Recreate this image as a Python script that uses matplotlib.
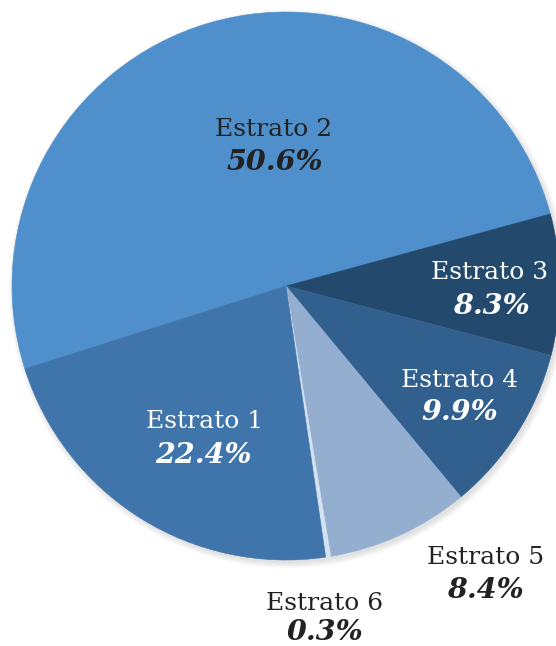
import matplotlib
matplotlib.use("Agg")
import matplotlib.pyplot as plt
from matplotlib.patches import Circle

# Data (clockwise order starting from Estrato 2)
categories = ["Estrato 2", "Estrato 3", "Estrato 4", "Estrato 5", "Estrato 6", "Estrato 1"]
values = [50.6, 8.3, 9.9, 8.4, 0.3, 22.4]
pct_labels = ["50.6%", "8.3%", "9.9%", "8.4%", "0.3%", "22.4%"]

colors = ["#4f8fcb", "#234a6d", "#31608e", "#94aed0", "#d3e1f1", "#3f75aa"]
text_colors = ["#222222", "#ffffff", "#ffffff", "#222222", "#222222", "#ffffff"]
# label anchor positions (pixel centres in the image) for name and percentage
label_px = [(274, 130), (490, 273), (460, 381), (486, 558), (325, 603), (204, 422)]
pct_px = [(275, 163), (491, 307), (460, 413), (485, 591), (325, 633), (203, 456)]

W, H = 556, 646
cx, cy, R = 286, 286, 274

fig = plt.figure(figsize=(W / 100, H / 100), dpi=100)
ax = fig.add_axes([(cx - R) / W, (H - (cy + R)) / H, 2 * R / W, 2 * R / H])

# soft shadow
for i in range(6):
    ax.add_patch(Circle((0.008, -0.01), 1.0 + 0.004 * i, color="#000000",
                        alpha=0.018, zorder=0, lw=0, clip_on=False))

wedges, _ = ax.pie(values, colors=colors, startangle=197.6, counterclock=False,
                   radius=1.0, normalize=True,
                   wedgeprops=dict(linewidth=0.4, antialiased=True))
for w, c in zip(wedges, colors):
    w.set_edgecolor(c)
    w.set_clip_on(False)
    w.set_zorder(2)

ax.set_xlim(-1, 1)
ax.set_ylim(-1, 1)
ax.set_aspect("equal")
ax.axis("off")

def to_data(p):
    return ((p[0] - cx) / R, (cy - p[1]) / R)

font = "DejaVu Serif"
for name, pct, tc, lp, pp in zip(categories, pct_labels, text_colors, label_px, pct_px):
    x, y = to_data(lp)
    ax.text(x, y, name, ha="center", va="center", fontsize=18, family=font,
            color=tc, zorder=5, clip_on=False)
    x, y = to_data(pp)
    ax.text(x, y, pct, ha="center", va="center", fontsize=20.5, family=font,
            fontweight="bold", fontstyle="italic", color=tc, zorder=5, clip_on=False)

fig.savefig("out.png", dpi=100)
